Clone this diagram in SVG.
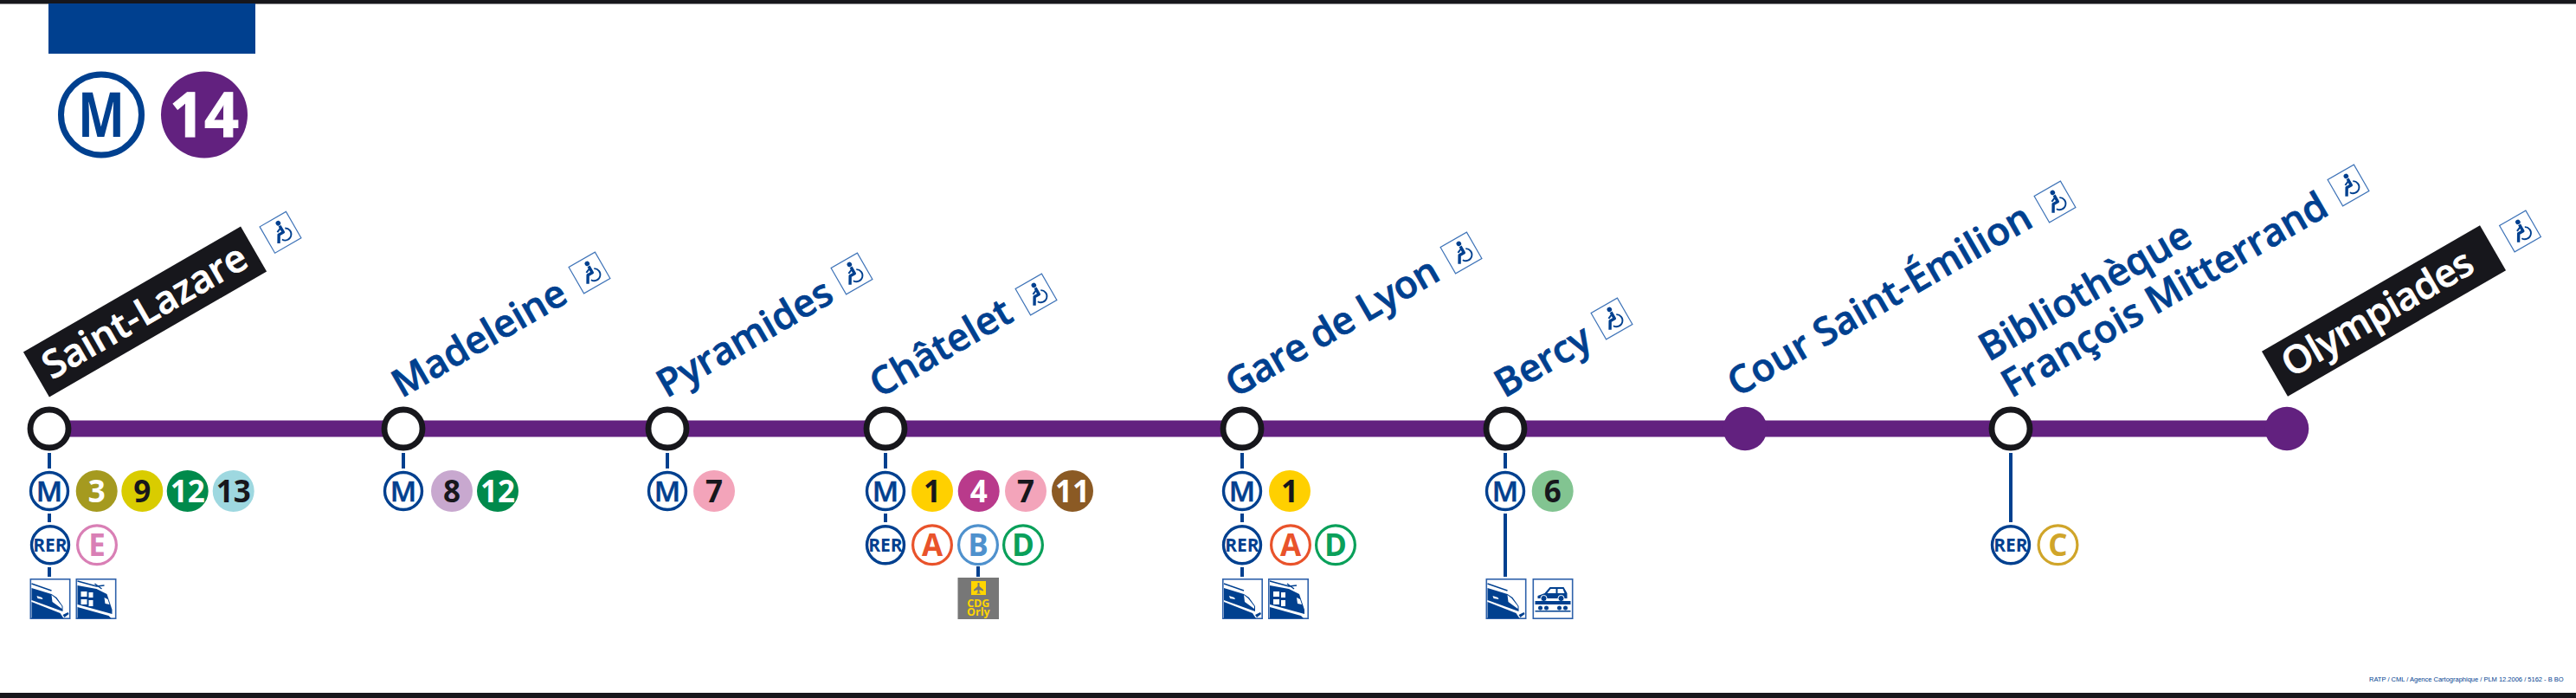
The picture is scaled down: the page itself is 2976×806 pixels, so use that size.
<svg xmlns="http://www.w3.org/2000/svg" width="2976" height="806" viewBox="0 0 2976 806">
<style>
text{font-family:"Open Sans","Noto Sans","Liberation Sans",sans-serif}
.name{font-size:44.500px;font-weight:600;fill:#00408f;stroke:#00408f;stroke-width:.7}
.term{font-size:44.500px;font-weight:600;fill:#fff;stroke:#fff;stroke-width:.7}
.st{fill:#fff;stroke:#17171c;stroke-width:6.8}
.end{fill:#62217f}
.m{fill:#fff;stroke:#00408f;stroke-width:3.4}
.mt{font-size:33px;font-weight:600;fill:#00408f;stroke:#00408f;stroke-width:.5;text-anchor:middle}
.rt{font-size:21px;font-weight:700;fill:#00408f;text-anchor:middle}
.n{font-size:35px;font-weight:700;text-anchor:middle}
.w{fill:#fff}.k{fill:#17171c}
.r{fill:#fff;stroke-width:3.2}
.c{fill:none;stroke:#00408f;stroke-width:4}
</style>
<defs>
<g id="acc">
<rect x="-17.500" y="-17.500" width="35" height="35" fill="#fff" stroke="#3f74b8" stroke-width="1.200"/>
<circle cx="3" cy="-10.500" r="2.800" fill="#00408f"/>
<path d="M3-7V1.500H-3L-8 10" fill="none" stroke="#00408f" stroke-width="3.400" stroke-linejoin="round"/>
<path d="M3-4.500L-3-2" fill="none" stroke="#00408f" stroke-width="2"/>
<path d="M7-1.500A7 7 0 1 1-2.500 8" fill="none" stroke="#00408f" stroke-width="1.800"/>
</g>
<g id="tgv">
<rect x="0.800" y="0.800" width="45.400" height="45.400" fill="#fff" stroke="#2f62ab" stroke-width="1.600"/>
<path d="M2 6L25 14" fill="none" stroke="#00408f" stroke-width="1.500"/>
<path d="M2 11L25 18L31 22L38 32L38 38L2 25Z" fill="#00408f"/>
<path d="M25 19L30 23L37 32V35L26 27Z" fill="#fff"/>
<path d="M8 20L14 22L15 24L9 23Z" fill="#fff"/>
<path d="M2 27L35 40L39 46H2Z" fill="#00408f"/>
<path d="M38 42L44 39L45 41L40 45Z" fill="#00408f"/>
</g>
<g id="ter">
<rect x="0.800" y="0.800" width="45.400" height="45.400" fill="#fff" stroke="#2f62ab" stroke-width="1.600"/>
<path d="M2 3L24 9L33 8M22 6L30 12" fill="none" stroke="#00408f" stroke-width="1.400"/>
<path d="M2 8L24 12L36 18L42 36V41L2 30Z" fill="#00408f"/>
<path d="M6 15H13V21H6ZM15 16H20V22H15ZM6 24H13V30H6ZM15 25H20V32H15ZM33 22L37 24L39 30L34 29Z" fill="#fff"/>
<path d="M2 33L38 43L41 46H2Z" fill="#00408f"/>
</g>
<g id="car">
<rect x="0.800" y="0.800" width="45.400" height="45.400" fill="#fff" stroke="#2f62ab" stroke-width="1.600"/>
<path d="M6 20L14 17L20 10H36L40 17V23H6Z" fill="#00408f"/>
<path d="M21 12H27V17H17ZM29 12H35L37 17H29Z" fill="#fff"/>
<circle cx="13" cy="23" r="3.600" fill="#00408f" stroke="#fff"/><circle cx="33" cy="23" r="3.600" fill="#00408f" stroke="#fff"/>
<path d="M3 26H44V30H3ZM3 37H44V38.500H3Z" fill="#00408f"/>
<circle cx="9" cy="34" r="2.500" fill="#00408f"/><circle cx="16" cy="34" r="2.500" fill="#00408f"/><circle cx="31" cy="34" r="2.500" fill="#00408f"/><circle cx="38" cy="34" r="2.500" fill="#00408f"/>
</g>
</defs>

<rect id="bar-top" x="0" y="0" width="2976" height="4.500" fill="#17171c"/>
<rect id="bar-bottom" x="0" y="800" width="2976" height="6" fill="#17171c"/>
<rect id="tab" x="56" y="4" width="239" height="58" fill="#00408f"/>

<g id="logo-metro"><circle cx="117" cy="132.500" r="46.500" fill="#fff" stroke="#00408f" stroke-width="7"/><text x="117" y="158" font-size="72" font-weight="700" fill="#00408f" text-anchor="middle" textLength="54" lengthAdjust="spacingAndGlyphs">M</text></g>
<g id="logo-14"><circle cx="236" cy="132.500" r="50" fill="#62217f"/><text x="236" y="158" font-size="72" font-weight="700" fill="#fff" stroke="#fff" stroke-width="1" text-anchor="middle" textLength="80" lengthAdjust="spacingAndGlyphs">14</text></g>

<g id="connectors">
<rect id="line14" x="57" y="485.500" width="2585" height="19" fill="#62217f"/>
<path class="c" d="M57 523V541M57 593V603M57 655V666M466 523V541M771 523V541M1023 523V541M1023 593V603M1130 654V666M1435 523V541M1435 593V603M1435 655V666M1739 523V541M1739 593V666M2323 523V603"/>
</g>

<g id="saint-lazare">
<rect x="-145" y="-30" width="290" height="60" class="k" transform="translate(167.500 360) rotate(-30)"/>
<text class="term" transform="translate(60 439) rotate(-30)">Saint-Lazare</text>
<use href="#acc" transform="translate(324 268.300) rotate(-30)"/>
<circle class="st" cx="57" cy="495" r="22"/>
<circle class="m" cx="57" cy="567" r="21.500"/><text class="mt" x="57" y="579">M</text>
<circle cx="111.700" cy="567" r="24" fill="#a59a1f"/><text class="n w" x="111.700" y="580">3</text>
<circle cx="164.300" cy="567" r="24" fill="#d9cc00"/><text class="n k" x="164.300" y="580">9</text>
<circle cx="216.700" cy="567" r="24" fill="#008a4b"/><text class="n w" x="216.700" y="580">12</text>
<circle cx="269.700" cy="567" r="24" fill="#9ed8e0"/><text class="n k" x="269.700" y="580">13</text>
<circle class="m" cx="58" cy="629.300" r="21.500"/><text class="rt" x="58" y="637">RER</text>
<circle class="r" cx="112" cy="629.300" r="22.400" stroke="#d97fb5"/><text class="n" fill="#d97fb5" x="112" y="642">E</text>
<use href="#tgv" x="34.500" y="668"/><use href="#ter" x="87.500" y="668"/>
</g>

<g id="madeleine">
<text class="name" transform="translate(464 460) rotate(-30)">Madeleine</text>
<use href="#acc" transform="translate(681 315) rotate(-30)"/>
<circle class="st" cx="466" cy="495" r="22"/>
<circle class="m" cx="466" cy="567" r="21.500"/><text class="mt" x="466" y="579">M</text>
<circle cx="522" cy="567" r="24" fill="#c8a8cf"/><text class="n k" x="522" y="580">8</text>
<circle cx="575" cy="567" r="24" fill="#008a4b"/><text class="n w" x="575" y="580">12</text>
</g>

<g id="pyramides">
<text class="name" transform="translate(770 460) rotate(-30)">Pyramides</text>
<use href="#acc" transform="translate(984 316) rotate(-30)"/>
<circle class="st" cx="771" cy="495" r="22"/>
<circle class="m" cx="771" cy="567" r="21.500"/><text class="mt" x="771" y="579">M</text>
<circle cx="825" cy="567" r="24" fill="#f3a4ba"/><text class="n k" x="825" y="580">7</text>
</g>

<g id="chatelet">
<text class="name" transform="translate(1016 460) rotate(-30)">Châtelet</text>
<use href="#acc" transform="translate(1197 340) rotate(-30)"/>
<circle class="st" cx="1023" cy="495" r="22"/>
<circle class="m" cx="1023" cy="567" r="21.500"/><text class="mt" x="1023" y="579">M</text>
<circle cx="1077" cy="567" r="24" fill="#ffd000"/><text class="n k" x="1077" y="580">1</text>
<circle cx="1130.700" cy="567" r="24" fill="#b93a8b"/><text class="n w" x="1130.700" y="580">4</text>
<circle cx="1185" cy="567" r="24" fill="#f3a4ba"/><text class="n k" x="1185" y="580">7</text>
<circle cx="1239" cy="567" r="24" fill="#8b5a24"/><text class="n w" x="1239" y="580">11</text>
<circle class="m" cx="1023" cy="629.300" r="21.500"/><text class="rt" x="1023" y="637">RER</text>
<circle class="r" cx="1077" cy="629.300" r="22.400" stroke="#e9532b"/><text class="n" fill="#e9532b" x="1077" y="642">A</text>
<circle class="r" cx="1130" cy="629.300" r="22.400" stroke="#4f91cd"/><text class="n" fill="#4f91cd" x="1130" y="642">B</text>
<circle class="r" cx="1182" cy="629.300" r="22.400" stroke="#0aa05a"/><text class="n" fill="#0aa05a" x="1182" y="642">D</text>
<rect x="1106.500" y="667" width="47.500" height="48" fill="#777"/>
<rect x="1122" y="671" width="17" height="16" fill="#ffd500"/>
<path d="M1129.500 673H1131.500V677L1136 681V682.500L1131.500 681V684L1133 685.500H1128L1129.500 684V681L1125 682.500V681L1129.500 677Z" fill="#777"/>
<text x="1130.300" y="701" font-size="12.500" font-weight="700" fill="#ffd500" text-anchor="middle">CDG</text>
<text x="1130.300" y="711" font-size="12.500" font-weight="700" fill="#ffd500" text-anchor="middle">Orly</text>
</g>

<g id="gare-de-lyon">
<text class="name" letter-spacing="-0.600" transform="translate(1427 460) rotate(-30)">Gare de Lyon</text>
<use href="#acc" transform="translate(1688 292) rotate(-30)"/>
<circle class="st" cx="1435" cy="495" r="22"/>
<circle class="m" cx="1435" cy="567" r="21.500"/><text class="mt" x="1435" y="579">M</text>
<circle cx="1490" cy="567" r="24" fill="#ffd000"/><text class="n k" x="1490" y="580">1</text>
<circle class="m" cx="1435" cy="629.300" r="21.500"/><text class="rt" x="1435" y="637">RER</text>
<circle class="r" cx="1491" cy="629.300" r="22.400" stroke="#e9532b"/><text class="n" fill="#e9532b" x="1491" y="642">A</text>
<circle class="r" cx="1543" cy="629.300" r="22.400" stroke="#0aa05a"/><text class="n" fill="#0aa05a" x="1543" y="642">D</text>
<use href="#tgv" x="1412" y="668"/><use href="#ter" x="1465" y="668"/>
</g>

<g id="bercy">
<text class="name" transform="translate(1738 460) rotate(-30)">Bercy</text>
<use href="#acc" transform="translate(1862 368) rotate(-30)"/>
<circle class="st" cx="1739" cy="495" r="22"/>
<circle class="m" cx="1739" cy="567" r="21.500"/><text class="mt" x="1739" y="579">M</text>
<circle cx="1793.700" cy="567" r="24" fill="#82c491"/><text class="n k" x="1793.700" y="580">6</text>
<use href="#tgv" x="1716.500" y="668"/><use href="#car" x="1770.500" y="668"/>
</g>

<g id="cour-saint-emilion">
<text class="name" transform="translate(2007 459) rotate(-30)">Cour Saint-Émilion</text>
<use href="#acc" transform="translate(2374 233) rotate(-30)"/>
<circle class="end" cx="2016" cy="495" r="25.300"/>
</g>

<g id="bibliotheque">
<text class="name" transform="translate(2297.500 418) rotate(-30)">Bibliothèque</text>
<text class="name" transform="translate(2323.500 460) rotate(-30)">François Mitterrand</text>
<use href="#acc" transform="translate(2713 214) rotate(-30)"/>
<circle class="st" cx="2323" cy="495" r="22"/>
<circle class="m" cx="2323" cy="629.300" r="21.500"/><text class="rt" x="2323" y="637">RER</text>
<circle class="r" cx="2377.500" cy="629.300" r="22.400" stroke="#d0a52a"/><text class="n" fill="#d0a52a" x="2377.500" y="642">C</text>
</g>

<g id="olympiades">
<rect x="-145.500" y="-30" width="291" height="60" class="k" transform="translate(2754 359) rotate(-30)"/>
<text class="term" letter-spacing="-0.800" transform="translate(2647 436.500) rotate(-30)">Olympiades</text>
<use href="#acc" transform="translate(2911.500 267) rotate(-30)"/>
<circle class="end" cx="2642" cy="495" r="25.300"/>
</g>

<text id="credit" x="2737" y="787" font-size="7.500" fill="#00408f" style="font-family:'Liberation Sans',sans-serif">RATP / CML / Agence Cartographique / PLM 12.2006 / 5162 - B BO</text>
</svg>
